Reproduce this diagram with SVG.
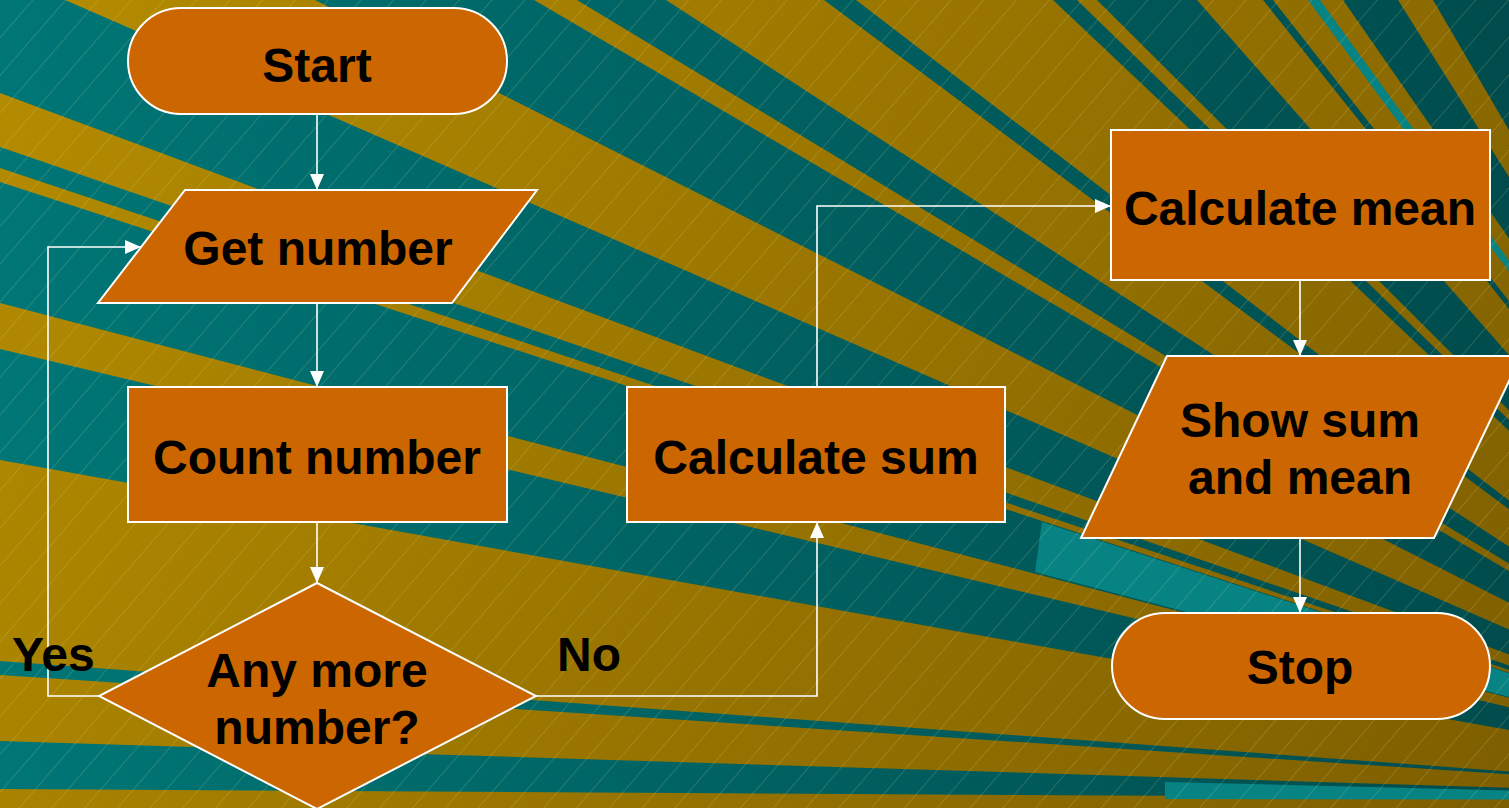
<svg xmlns="http://www.w3.org/2000/svg" width="1509" height="808" viewBox="0 0 1509 808">
<defs>
<linearGradient id="gold" gradientUnits="userSpaceOnUse" x1="0" y1="0" x2="1509" y2="808">
<stop offset="0" stop-color="#B58C00"/><stop offset="1" stop-color="#7E5F00"/>
</linearGradient>
<linearGradient id="teal" gradientUnits="userSpaceOnUse" x1="0" y1="0" x2="1509" y2="0">
<stop offset="0" stop-color="#007676"/><stop offset="1" stop-color="#004C4D"/>
</linearGradient>
<pattern id="hatch" width="35" height="35" patternUnits="userSpaceOnUse" patternTransform="rotate(-4)">
<path d="M0,35 L35,0 M-3,3 L3,-3 M32,38 L38,32" stroke="#F0E0A0" stroke-opacity="0.3" stroke-width="0.8" fill="none"/>
</pattern>
<marker id="arr" markerUnits="userSpaceOnUse" markerWidth="16" markerHeight="14" refX="16" refY="7" orient="auto">
<path d="M0,0 L16,7 L0,14 z" fill="#ffffff"/>
</marker>
<style>
.t{fill:url(#teal)}
.tl{fill:#078383}
.node{fill:#CC6600;stroke:#ffffff;stroke-width:2}
.lbl{font-family:"Liberation Sans",Arial,sans-serif;font-weight:bold;font-size:48px;fill:#000000;text-anchor:middle}
.side{font-family:"Liberation Sans",Arial,sans-serif;font-weight:bold;font-size:48px;fill:#000000}
.c{fill:none;stroke:#ffffff;stroke-width:1.6;marker-end:url(#arr)}
</style>
</defs>
<g id="background">
<rect x="0" y="0" width="1509" height="808" fill="url(#gold)"/>
<polygon class="t" points="1900,800 0,93 0,0 65,0"/>
<polygon class="t" points="1900,800 0,147 0,168"/>
<polygon class="t" points="1900,800 0,182 0,303"/>
<polygon class="t" points="1900,800 0,349 0,460"/>
<polygon class="t" points="1900,800 0,661 0,675"/>
<polygon class="t" points="1900,800 0,741 0,789"/>
<polygon class="t" points="1900,800 315,0 534,0"/>
<polygon class="t" points="1900,800 577,0 666,0"/>
<polygon class="t" points="1900,800 824,0 856,0"/>
<polygon class="t" points="1900,800 1053,0 1077,0"/>
<polygon class="t" points="1900,800 1097,0 1197,0"/>
<polygon class="t" points="1900,800 1263,0 1273,0"/>
<polygon class="tl" points="1900,800 1308,0 1320,0"/>
<polygon class="t" points="1900,800 1343,0 1398,0"/>
<polygon class="t" points="1900,800 1433,0 1509,0"/>
<polygon class="tl" points="1042,522 1900,800 1035,572"/>
<polygon class="tl" points="1165,782 1900,800 1165,799"/>
<rect x="0" y="0" width="1509" height="808" fill="url(#hatch)"/>
</g>
<g id="connectors">
<path class="c" d="M317,114 L317,190"/>
<path class="c" d="M317,303 L317,387"/>
<path class="c" d="M317,522 L317,583"/>
<path class="c" d="M99,696 L48,696 L48,247 L141,247"/>
<path class="c" d="M536,696 L817,696 L817,522"/>
<path class="c" d="M817,387 L817,206 L1111,206"/>
<path class="c" d="M1300,280 L1300,356"/>
<path class="c" d="M1300,538 L1300,613"/>
</g>
<g id="node-start">
<rect class="node" x="128" y="8" width="379" height="106" rx="53" ry="53"/>
<text class="lbl" x="317" y="82">Start</text>
</g>
<g id="node-get-number">
<polygon class="node" points="185,190 537,190 452,303 98,303"/>
<text class="lbl" x="318" y="265">Get number</text>
</g>
<g id="node-count-number">
<rect class="node" x="128" y="387" width="379" height="135"/>
<text class="lbl" x="317" y="474">Count number</text>
</g>
<g id="node-decision">
<polygon class="node" points="317,583 536,696 317,809 99,696"/>
<text class="lbl" x="317" y="687">Any more</text>
<text class="lbl" x="317" y="744">number?</text>
</g>
<g id="node-calc-sum">
<rect class="node" x="627" y="387" width="378" height="135"/>
<text class="lbl" x="816" y="474">Calculate sum</text>
</g>
<g id="node-calc-mean">
<rect class="node" x="1111" y="130" width="379" height="150"/>
<text class="lbl" x="1300" y="225">Calculate mean</text>
</g>
<g id="node-show">
<polygon class="node" points="1167,356 1521,356 1434,538 1081,538"/>
<text class="lbl" x="1300" y="437">Show sum</text>
<text class="lbl" x="1300" y="494">and mean</text>
</g>
<g id="node-stop">
<rect class="node" x="1112" y="613" width="378" height="106" rx="53" ry="53"/>
<text class="lbl" x="1300" y="684">Stop</text>
</g>
<g id="labels">
<text class="side" x="12" y="671">Yes</text>
<text class="side" x="557" y="671">No</text>
</g>
</svg>
